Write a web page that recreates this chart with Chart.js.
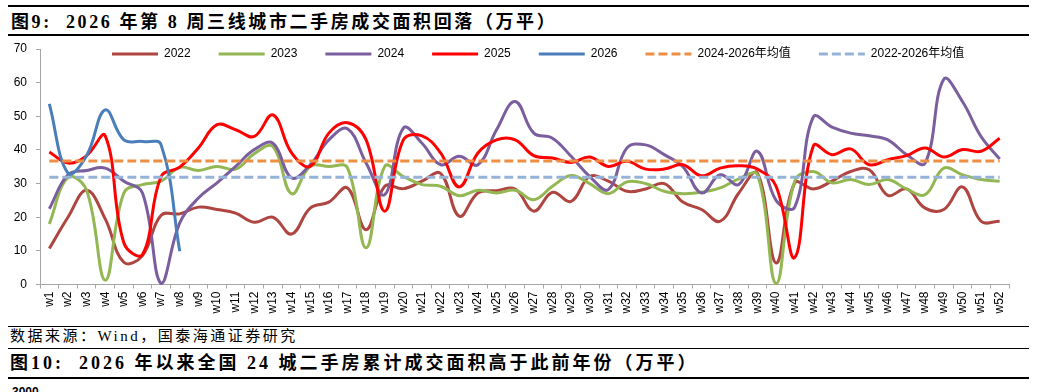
<!DOCTYPE html>
<html>
<head>
<meta charset="utf-8">
<script src="https://cdn.jsdelivr.net/npm/chart.js@4.4.1/dist/chart.umd.min.js"></script>
<style>
  html, body { margin: 0; padding: 0; background: #fff; }
  #page { position: relative; width: 1038px; height: 392px; overflow: hidden; }
  .rule { position: absolute; left: 8px; width: 1021px; background: #000; }
  .ttl { position: absolute; left: 11px; white-space: pre; font-weight: bold; font-size: 18px; line-height: 20px;
         letter-spacing: 2.6px; font-family: "Liberation Serif", "Noto Sans CJK SC", serif; color: #000; }
  .src { position: absolute; left: 10px; top: 327px; white-space: pre; font-size: 15px; line-height: 18px;
         letter-spacing: 2.5px; font-family: "Liberation Serif", "Noto Sans CJK SC", serif; color: #000; }
  .cut { position: absolute; left: 12px; top: 385px; font: bold 12px "Liberation Sans", Arial, sans-serif; }
  #wrap { position: absolute; left: 0; top: 40px; width: 1038px; height: 286px; }
</style>
</head>
<body>
<div id="page">
  <div class="rule" style="top:5px;height:2px"></div>
  <div class="ttl" style="top:12px">图9:  2026 年第 8 周三线城市二手房成交面积回落（万平）</div>
  <div class="rule" style="top:34px;height:2px"></div>
  <div id="wrap"><canvas id="c" width="1038" height="286"></canvas></div>
  <div class="rule" style="top:326px;height:1px"></div>
  <div class="src">数据来源：Wind，国泰海通证券研究</div>
  <div class="rule" style="top:348px;height:1px"></div>
  <div class="ttl" style="top:353px;left:10px;letter-spacing:3px">图10:  2026 年以来全国 24 城二手房累计成交面积高于此前年份（万平）</div>
  <div class="rule" style="top:377px;height:2px"></div>
  <div class="cut">3000</div>
</div>
<script>
// week labels on the x axis
const weeks = ['w1','w2','w3','w4','w5','w6','w7','w8','w9','w10','w11','w12','w13',
  'w14','w15','w16','w17','w18','w19','w20','w21','w22','w23','w24','w25','w26',
  'w27','w28','w29','w30','w31','w32','w33','w34','w35','w36','w37','w38','w39',
  'w40','w41','w42','w43','w44','w45','w46','w47','w48','w49','w50','w51','w52'];

// weekly transaction area (10k m2)
const y2022 = [10.7, 20.0, 28.0, 19.5, 6.6, 8.6, 20.6, 21.0, 23.0, 22.3, 21.2, 18.5, 20.0,
  15.0, 22.7, 24.5, 28.7, 16.3, 29.2, 28.5, 30.7, 33.0, 20.3, 27.2, 27.9, 28.4,
  21.8, 27.4, 24.7, 32.1, 30.7, 27.7, 28.4, 30.0, 24.5, 22.3, 18.8, 27.2, 33.1,
  6.4, 30.2, 28.4, 30.7, 33.6, 34.1, 26.5, 28.4, 22.7, 22.3, 29.0, 18.8, 18.8];
const y2023 = [18.0, 31.8, 28.0, 1.3, 27.2, 29.7, 30.7, 34.8, 33.9, 35.1, 34.3, 38.9, 41.0,
  27.0, 35.1, 35.1, 34.7, 10.9, 35.1, 32.1, 29.7, 29.2, 26.4, 28.0, 27.2, 28.0,
  25.2, 29.2, 32.4, 30.0, 27.0, 30.5, 30.0, 27.7, 27.0, 27.4, 28.7, 31.4, 32.6,
  0.3, 30.7, 33.6, 30.2, 31.2, 29.7, 31.2, 28.4, 26.7, 34.6, 32.6, 31.2, 30.7];
const y2024 = [22.5, 32.6, 33.9, 34.6, 30.7, 27.2, 0.3, 18.3, 25.7, 30.2, 35.1, 40.1, 42.0,
  31.7, 35.6, 43.0, 46.3, 36.1, 26.7, 46.5, 42.0, 35.6, 38.1, 35.6, 46.0, 54.4,
  45.0, 43.5, 38.1, 32.1, 28.2, 40.6, 41.5, 38.6, 35.0, 27.2, 32.6, 29.7, 39.6,
  25.0, 23.0, 49.8, 46.8, 45.0, 44.2, 43.0, 38.6, 36.1, 61.0, 54.4, 44.0, 37.3];
const y2025 = [39.4, 36.1, 38.3, 44.2, 12.4, 8.9, 32.1, 34.9, 40.6, 47.5, 46.0, 44.0, 50.4,
  39.1, 35.1, 45.0, 48.1, 43.0, 21.8, 43.0, 44.2, 39.1, 29.0, 39.1, 43.0, 43.0,
  38.3, 37.6, 36.3, 37.9, 35.1, 36.6, 34.3, 34.3, 35.6, 32.3, 34.6, 35.3, 34.3,
  29.2, 8.0, 41.2, 38.6, 40.3, 35.6, 37.1, 38.3, 40.6, 37.9, 40.1, 39.6, 43.5];
const y2026 = [53.7, 33.1, 38.3, 51.9, 43.0, 42.5, 41.5, 9.9];

// average levels shown as flat dashed lines
const avg2426 = 36.7;
const avg2226 = 31.9;

const yTicks = [0, 10, 20, 30, 40, 50, 60, 70];

const legendMidY = 14;     // canvas px
const legendStartX = 112;

Chart.defaults.font.family = '"Liberation Sans", Arial, "Noto Sans CJK SC", sans-serif';
Chart.defaults.font.size = 12;
Chart.defaults.color = '#000';

const line = (label, data, color, dash) => ({
  label: label,
  data: data,
  borderColor: color,
  backgroundColor: color,
  borderWidth: 3,
  borderDash: dash || [],
  pointRadius: 0,
  tension: 0.4,
  clip: false
});

const datasets = [
  line('2022', y2022, '#AF4541'),
  line('2023', y2023, '#93B752'),
  line('2024', y2024, '#7B5E9E'),
  line('2025', y2025, '#FF0000'),
  line('2026', y2026, '#4A7EBB'),
  line('2024-2026年均值', weeks.map(() => avg2426), '#EE8E42', [9, 4]),
  line('2022-2026年均值', weeks.map(() => avg2226), '#95B3D7', [9, 4])
];
// later series sit on top, like the original
datasets.forEach((d, i) => { d.order = datasets.length - i; });

const moveLegend = {
  id: 'moveLegend',
  afterLayout(chart) {
    const lg = chart.legend;
    const pad = lg.options.labels.padding;
    lg.top = legendMidY - pad - 6;
    lg.bottom = lg.top + 60;
    lg.left = legendStartX - pad;
    lg.right = chart.width + 300;
  }
};

new Chart(document.getElementById('c'), {
  type: 'line',
  data: { labels: weeks, datasets: datasets },
  plugins: [moveLegend],
  options: {
    responsive: false,
    animation: false,
    layout: { padding: { top: 9, right: 29, left: 0, bottom: 0 } },
    plugins: {
      tooltip: { enabled: false },
      legend: {
        position: 'top',
        align: 'start',
        maxHeight: 0.001,
        labels: {
          usePointStyle: true,
          pointStyleWidth: 46,
          boxHeight: 12,
          padding: 28,
          font: { size: 12 },
          generateLabels: chart => chart.data.datasets.map((d, i) => ({
            text: d.label,
            strokeStyle: d.borderColor,
            fillStyle: d.borderColor,
            lineWidth: 3,
            lineDash: d.borderDash,
            lineCap: 'butt',
            pointStyle: 'line',
            datasetIndex: i,
            hidden: false
          }))
        }
      }
    },
    scales: {
      x: {
        offset: true,
        grid: { display: true, drawOnChartArea: false, drawTicks: true, tickLength: 4, offset: true, color: '#A6A6A6' },
        border: { color: '#A6A6A6' },
        ticks: { autoSkip: false, minRotation: 90, maxRotation: 90, padding: 3, font: { size: 12 } },
        afterFit: s => { s.height = 41.5; s.paddingLeft = 0; s.paddingRight = 0; }
      },
      y: {
        min: 0,
        max: 70,
        afterBuildTicks: s => { s.ticks = yTicks.map(v => ({ value: v })); },
        grid: { display: true, drawOnChartArea: false, drawTicks: true, tickLength: 4, color: '#A6A6A6' },
        border: { color: '#A6A6A6' },
        ticks: { padding: 9, font: { size: 12 } },
        afterFit: s => { s.width = 40; s.paddingTop = 0; s.paddingBottom = 0; }
      }
    }
  }
});
</script>
</body>
</html>
